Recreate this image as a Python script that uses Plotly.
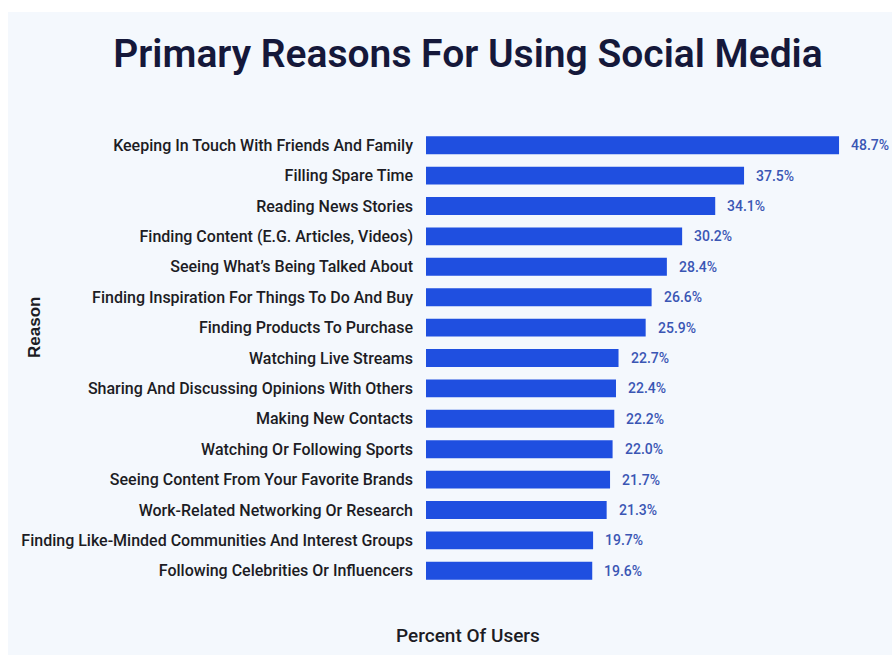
import plotly.graph_objects as go

# Survey results: share of users citing each reason
reasons = [
    "Keeping In Touch With Friends And Family",
    "Filling Spare Time",
    "Reading News Stories",
    "Finding Content (E.G. Articles, Videos)",
    "Seeing What\u2019s Being Talked About",
    "Finding Inspiration For Things To Do And Buy",
    "Finding Products To Purchase",
    "Watching Live Streams",
    "Sharing And Discussing Opinions With Others",
    "Making New Contacts",
    "Watching Or Following Sports",
    "Seeing Content From Your Favorite Brands",
    "Work-Related Networking Or Research",
    "Finding Like-Minded Communities And Interest Groups",
    "Following Celebrities Or Influencers",
]
percent_users = [48.7, 37.5, 34.1, 30.2, 28.4, 26.6, 25.9, 22.7, 22.4, 22.2,
                 22.0, 21.7, 21.3, 19.7, 19.6]

BAR_BLUE = "#1f4fe0"
LABEL_BLUE = "#3a56b4"
INK = "#1c1c24"
PANEL = "#f4f8fd"

W, H = 892, 655
ML, MR, MT, MB = 426, 8, 130, 69

fig = go.Figure(
    go.Bar(
        x=percent_users,
        y=reasons,
        orientation="h",
        marker=dict(color=BAR_BLUE, line=dict(width=0)),
        hoverinfo="skip",
    )
)

# value labels just past the end of each bar
for reason, pct in zip(reasons, percent_users):
    fig.add_annotation(
        x=pct, y=reason, xref="x", yref="y",
        text=f"{pct:.1f}%", showarrow=False,
        xanchor="left", xshift=10,
        font=dict(family="Roboto", size=14, color=LABEL_BLUE, weight=500),
    )

pw = W - ML - MR
ph = H - MT - MB

def px_to_paper_x(px):
    return (px - ML) / pw

def px_to_paper_y(py):
    return (H - MB - py) / ph

# light panel behind the whole chart
fig.add_shape(
    type="rect", xref="paper", yref="paper", layer="below",
    x0=px_to_paper_x(8), x1=px_to_paper_x(W + 2),
    y0=px_to_paper_y(H + 2), y1=px_to_paper_y(12),
    fillcolor=PANEL, line=dict(width=0),
)

# axis titles
fig.add_annotation(
    x=px_to_paper_x(468), y=px_to_paper_y(635), xref="paper", yref="paper",
    text="Percent Of Users", showarrow=False,
    font=dict(family="Roboto", size=19, color=INK, weight=500),
    xanchor="center", yanchor="middle",
)
fig.add_annotation(
    x=px_to_paper_x(34), y=px_to_paper_y(328), xref="paper", yref="paper",
    text="<b>Reason</b>", showarrow=False, textangle=-90,
    font=dict(family="Liberation Sans", size=17, color=INK),
    xanchor="center", yanchor="middle",
)

fig.update_layout(
    width=W, height=H,
    margin=dict(l=ML, r=MR, t=MT, b=MB, pad=0),
    paper_bgcolor="white",
    plot_bgcolor="rgba(0,0,0,0)",
    bargap=0.41,
    showlegend=False,
    title=dict(
        text="Primary Reasons For Using Social Media",
        x=468 / W, xref="container", xanchor="center",
        y=1 - 53 / H, yref="container", yanchor="middle",
        font=dict(family="Roboto", size=39, color="#15183a", weight=600),
    ),
    xaxis=dict(
        range=[0, 54], visible=False, fixedrange=True,
    ),
    yaxis=dict(
        autorange="reversed",
        showgrid=False, zeroline=False, showline=False,
        ticks="", ticklabelstandoff=12,
        tickfont=dict(family="Roboto", size=16, color=INK, weight=500),
    ),
)

fig.write_html("out.html")
